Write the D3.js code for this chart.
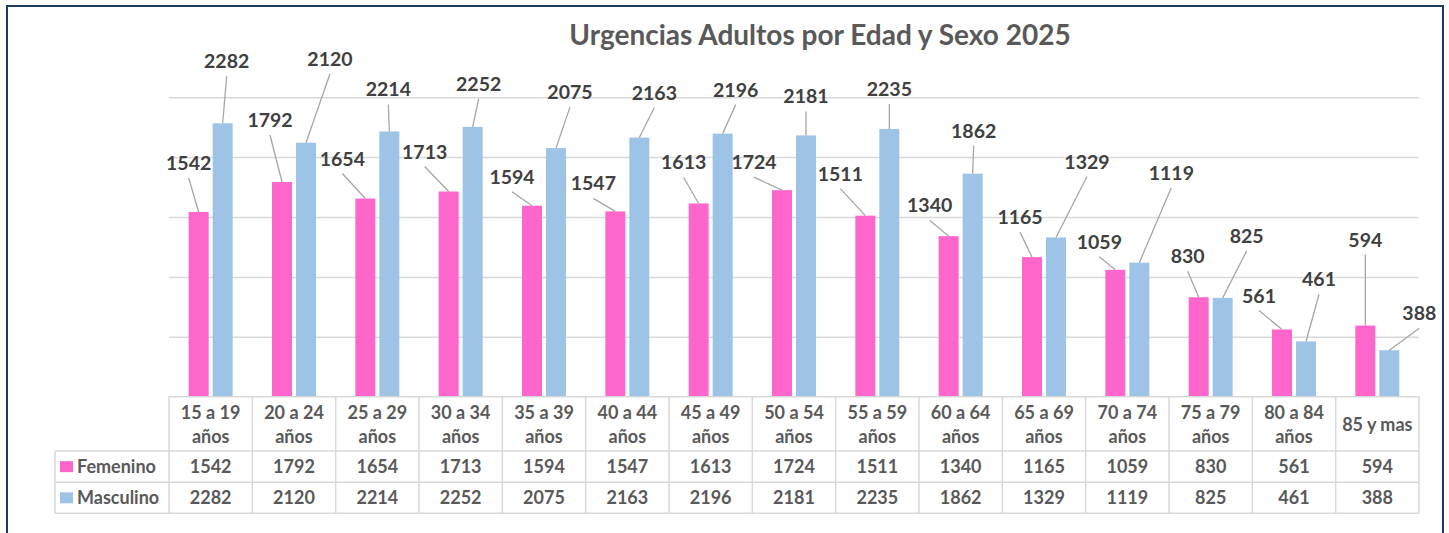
<!DOCTYPE html>
<html>
<head>
<meta charset="utf-8">
<script src="https://cdn.jsdelivr.net/npm/d3@7"></script>
<style>
  body { margin: 0; background: #fff; }
  svg text { font-family: Lato, "Open Sans", sans-serif; font-weight: bold; }
</style>
</head>
<body>
<div class="chart"></div>
<script>
// data
var categories = ["15 a 19 años", "20 a 24 años", "25 a 29 años", "30 a 34 años", "35 a 39 años",
  "40 a 44 años", "45 a 49 años", "50 a 54 años", "55 a 59 años", "60 a 64 años",
  "65 a 69 años", "70 a 74 años", "75 a 79 años", "80 a 84 años", "85 y mas"];
var series = ["Femenino", "Masculino"];
var femenino = [1542, 1792, 1654, 1713, 1594, 1547, 1613, 1724, 1511, 1340, 1165, 1059, 830, 561, 594];
var masculino = [2282, 2120, 2214, 2252, 2075, 2163, 2196, 2181, 2235, 1862, 1329, 1119, 825, 461, 388];
var gridTicks = [500, 1000, 1500, 2000, 2500];

// manual label offsets (px from the top centre of each bar), like the moved labels in the original
var femLabelOffsets = [[-10,-49],[-12,-62],[-23,-40],[-24,-40],[-20,-29],[-22,-28],[-15,-41],[-28,-28],
  [-25,-42],[-19,-31],[-12,-40],[-16,-28],[-11,-41],[-23,-34],[0,-86]];
var mascLabelOffsets = [[4,-62],[24,-84],[-1,-42],[6,-43],[14,-56],[15,-45],[13,-44],[0,-39],
  [0,-40],[1,-43],[31,-76],[32,-90],[24,-62],[13,-62],[30,-37]];

var colors = { Femenino: "#FF66CC", Masculino: "#9DC3E6" };
var values = { Femenino: femenino, Masculino: masculino };
var offsets = { Femenino: femLabelOffsets, Masculino: mascLabelOffsets };

var svgWidth = 1449, svgHeight = 533;
var plot = { left: 169, right: 1419, top: 97.2, bottom: 396.7 };
var rowTop = [396.7, 451, 482.3, 513.3];

var svg = d3.select(".chart").append("svg")
  .attr("width", svgWidth)
  .attr("height", svgHeight);

// outer frame
svg.append("rect")
  .attr("x", 7).attr("y", 6)
  .attr("width", 1436).attr("height", 560)
  .attr("fill", "none")
  .attr("stroke", "#1F3864")
  .attr("stroke-width", 2);

svg.append("text")
  .attr("x", 820).attr("y", 45)
  .attr("text-anchor", "middle")
  .style("font-size", "28px")
  .style("fill", "#595959")
  .text("Urgencias Adultos por Edad y Sexo 2025");

var x = d3.scaleBand().domain(categories).range([plot.left, plot.right]);
var xSub = d3.scaleBand().domain(series).range([0, x.bandwidth()])
  .paddingInner(1 / 6).paddingOuter(0.82);
var y = d3.scaleLinear().domain([0, 2500]).range([plot.bottom, plot.top]);

// gridlines
var grid = svg.append("g")
  .attr("transform", `translate(${plot.left},0)`)
  .call(d3.axisLeft(y).tickValues(gridTicks).tickSize(-(plot.right - plot.left)).tickFormat(""));
grid.select(".domain").remove();
grid.selectAll("line").attr("stroke", "#D9D9D9").attr("stroke-width", 1.5);

// bars
var groups = svg.selectAll(".cat")
  .data(categories)
  .enter().append("g")
  .attr("transform", d => `translate(${x(d)},0)`);

series.forEach(function(s) {
  groups.append("rect")
    .attr("x", xSub(s))
    .attr("y", (d, i) => y(values[s][i]))
    .attr("width", xSub.bandwidth())
    .attr("height", (d, i) => y(0) - y(values[s][i]))
    .attr("fill", colors[s]);
});

// data labels with leader lines
series.forEach(function(s) {
  var labels = svg.append("g");
  categories.forEach(function(c, i) {
    var bx = x(c) + xSub(s) + xSub.bandwidth() / 2;
    var by = y(values[s][i]);
    var lx = bx + offsets[s][i][0];
    var ly = by + offsets[s][i][1];
    labels.append("line")
      .attr("x1", lx).attr("y1", ly + 15)
      .attr("x2", bx).attr("y2", by)
      .attr("stroke", "#A6A6A6")
      .attr("stroke-width", 1.3);
    labels.append("text")
      .attr("x", lx).attr("y", ly)
      .attr("dy", "0.36em")
      .attr("text-anchor", "middle")
      .style("font-size", "19.5px")
      .style("fill", "#404040")
      .text(values[s][i]);
  });
});

// data table under the chart
var table = svg.append("g");
var lineColor = "#D9D9D9";
table.append("line")
  .attr("x1", plot.left).attr("x2", plot.right)
  .attr("y1", rowTop[0]).attr("y2", rowTop[0]);
rowTop.slice(1).forEach(function(r) {
  table.append("line")
    .attr("x1", 55).attr("x2", plot.right)
    .attr("y1", r).attr("y2", r);
});
table.append("line")
  .attr("x1", 55).attr("x2", 55)
  .attr("y1", rowTop[1]).attr("y2", rowTop[3]);
x.domain().concat(["end"]).forEach(function(c) {
  var xx = c === "end" ? plot.right : x(c);
  table.append("line")
    .attr("x1", xx).attr("x2", xx)
    .attr("y1", rowTop[0]).attr("y2", rowTop[3]);
});
table.selectAll("line").attr("stroke", lineColor).attr("stroke-width", 1.5);

// category headers, "años" goes on the second line
categories.forEach(function(c) {
  var cx = x(c) + x.bandwidth() / 2;
  var parts = c.indexOf(" años") > -1 ? [c.replace(" años", ""), "años"] : [c];
  var t = table.append("text")
    .attr("text-anchor", "middle")
    .style("font-size", "18px")
    .style("fill", "#595959");
  if (parts.length === 2) {
    t.append("tspan").attr("x", cx).attr("y", 419).text(parts[0]);
    t.append("tspan").attr("x", cx).attr("y", 443).text(parts[1]);
  } else {
    t.attr("x", cx).attr("y", 431).text(parts[0]);
  }
});

// legend + value rows
series.forEach(function(s, r) {
  var cy = (rowTop[r + 1] + rowTop[r + 2]) / 2;
  table.append("rect")
    .attr("x", 60).attr("y", cy - 5.5)
    .attr("width", 13).attr("height", 11)
    .attr("fill", colors[s]);
  table.append("text")
    .attr("x", 77).attr("y", cy)
    .attr("dy", "0.36em")
    .style("font-size", "18px")
    .style("fill", "#595959")
    .text(s);
  categories.forEach(function(c, i) {
    table.append("text")
      .attr("x", x(c) + x.bandwidth() / 2).attr("y", cy)
      .attr("dy", "0.36em")
      .attr("text-anchor", "middle")
      .style("font-size", "18px")
      .style("fill", "#595959")
      .text(values[s][i]);
  });
});
</script>
</body>
</html>
